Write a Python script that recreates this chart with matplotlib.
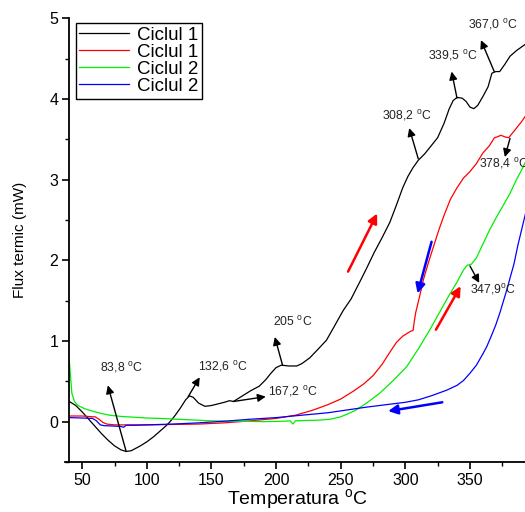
import matplotlib
matplotlib.use("Agg")
import matplotlib.pyplot as plt
from matplotlib.ticker import MultipleLocator

plt.rcParams['font.family'] = ['Liberation Sans', 'DejaVu Sans']
plt.rcParams['mathtext.fontset'] = 'custom'
plt.rcParams['mathtext.rm'] = 'Liberation Sans'

# ---- data ----
labels = ["Ciclul 1", "Ciclul 1", "Ciclul 2", "Ciclul 2"]
colors = ["black", "red", "#00ee00", "blue"]

black_T = [40, 45, 50, 55, 60, 65, 70, 75, 80, 84, 88, 95, 100, 105, 110, 115, 118, 122, 126, 130,
           133, 136, 140, 145, 150, 155, 160, 164, 167, 170, 175, 180, 187, 192, 196, 200, 204, 210,
           216, 220, 226, 232, 239, 245, 252, 258, 265, 270, 276, 282, 288, 293, 298, 302, 306, 310,
           315, 320, 325, 330, 334, 337, 340, 344, 347, 350, 353, 356, 360, 364, 367, 370, 373, 377,
           381, 386, 393]
black_v = [0.25, 0.20, 0.12, 0.03, -0.06, -0.15, -0.23, -0.30, -0.35, -0.37, -0.36, -0.30, -0.25,
           -0.19, -0.12, -0.05, 0.0, 0.08, 0.17, 0.27, 0.32, 0.30, 0.23, 0.19, 0.20, 0.22, 0.24, 0.26,
           0.25, 0.28, 0.33, 0.38, 0.44, 0.52, 0.60, 0.67, 0.70, 0.69, 0.69, 0.72, 0.79, 0.89, 1.01,
           1.18, 1.38, 1.52, 1.74, 1.90, 2.10, 2.28, 2.47, 2.68, 2.90, 3.04, 3.15, 3.24, 3.32, 3.42,
           3.52, 3.70, 3.88, 3.98, 4.02, 4.01, 3.97, 3.90, 3.88, 3.92, 4.03, 4.15, 4.32, 4.34, 4.34,
           4.43, 4.53, 4.60, 4.68]

red_T = [40, 50, 58, 60, 63, 66, 69, 75, 85, 100, 120, 140, 160, 180, 200, 215, 228, 240, 250, 260,
         268, 275, 282, 288, 293, 298, 302, 304, 306, 307, 308, 311, 314, 318, 322, 326, 330, 335,
         340, 345, 350, 355, 360, 365, 369, 371, 374, 377, 380, 383, 387, 390, 393]
red_v = [0.07, 0.07, 0.06, 0.06, 0.03, -0.01, -0.03, -0.04, -0.04, -0.04, -0.035, -0.03, -0.015,
         0.01, 0.04, 0.08, 0.14, 0.21, 0.28, 0.38, 0.47, 0.57, 0.71, 0.86, 0.98, 1.06, 1.10, 1.12,
         1.13, 1.25, 1.35, 1.55, 1.76, 1.98, 2.18, 2.38, 2.56, 2.76, 2.90, 3.02, 3.10, 3.20, 3.33,
         3.42, 3.52, 3.53, 3.55, 3.53, 3.52, 3.58, 3.66, 3.72, 3.79]

green_T = [40, 41, 42, 44, 46, 48, 52, 58, 65, 71, 80, 90, 100, 110, 130, 150, 170, 190, 205, 211,
           213, 215, 225, 235, 242, 250, 256, 262, 270, 280, 290, 301, 310, 319, 327, 334, 340, 345,
           348, 351, 355, 360, 365, 370, 375, 381, 386, 390, 393]
green_v = [0.76, 0.55, 0.35, 0.25, 0.21, 0.19, 0.16, 0.13, 0.10, 0.08, 0.065, 0.055, 0.045, 0.04,
           0.025, 0.01, 0.005, 0.0, 0.005, 0.01, -0.03, 0.01, 0.015, 0.02, 0.03, 0.06, 0.10, 0.145,
           0.23, 0.35, 0.50, 0.68, 0.90, 1.14, 1.37, 1.57, 1.73, 1.88, 1.94, 1.95, 2.03, 2.20, 2.37,
           2.52, 2.66, 2.83, 3.0, 3.12, 3.22]

blue_T = [40, 50, 58, 61, 64, 67, 75, 80, 82, 84, 90, 100, 120, 140, 160, 180, 200, 220, 240, 255,
          270, 285, 300, 310, 320, 332, 340, 345, 350, 355, 360, 363, 367, 370, 373, 376, 379, 381,
          384, 387, 390, 393]
blue_v = [0.05, 0.045, 0.04, 0.01, -0.04, -0.05, -0.055, -0.06, -0.07, -0.045, -0.045, -0.04, -0.03,
          -0.015, 0.005, 0.03, 0.05, 0.08, 0.11, 0.145, 0.18, 0.21, 0.24, 0.27, 0.32, 0.39, 0.45,
          0.51, 0.60, 0.70, 0.84, 0.93, 1.08, 1.20, 1.34, 1.50, 1.66, 1.78, 1.95, 2.18, 2.38, 2.58]

# annotations: text, text position, arrow tail (on curve), arrow head
ann_text = ["83,8 $^\\mathregular{o}$C", "132,6 $^\\mathregular{o}$C", "167,2 $^\\mathregular{o}$C",
            "205 $^\\mathregular{o}$C", "308,2 $^\\mathregular{o}$C", "339,5 $^\\mathregular{o}$C",
            "367,0 $^\\mathregular{o}$C", "378,4 $^\\mathregular{o}$C", "347,9$^\\mathregular{o}$C"]
ann_xy = [(80, 0.67), (159, 0.68), (213, 0.37), (213, 1.24), (301, 3.79), (336.6, 4.54),
          (368, 4.92), (376.5, 3.20), (368, 1.64)]
ann_tail = [(84, -0.37), (132, 0.31), (167, 0.25), (205, 0.70), (310, 3.26), (340, 4.01),
            (368.8, 4.34), (381, 3.51), (350, 1.93)]
ann_head = [(69.8, 0.45), (140.9, 0.55), (192, 0.31), (199, 1.05), (303, 3.64), (335.8, 4.34),
            (358.5, 4.73), (377, 3.28), (357.2, 1.72)]

dir_tail = [(255.7, 1.86), (320.3, 2.23), (323.7, 1.14), (328.6, 0.24)]
dir_head = [(278.2, 2.58), (309.5, 1.59), (342.8, 1.68), (286.7, 0.13)]
dir_color = ["red", "blue", "red", "blue"]

# ---- figure ----
fig = plt.figure(figsize=(5.25, 5.12), dpi=100)
ax = fig.add_axes([0.132, 0.0977, 0.868, 0.8665])

series = [(black_T, black_v), (red_T, red_v), (green_T, green_v), (blue_T, blue_v)]
for (T, v), c, lab in zip(series, colors, labels):
    ax.plot(T, v, color=c, lw=0.9, label=lab)

for txt, xy, tail, head in zip(ann_text, ann_xy, ann_tail, ann_head):
    ax.annotate("", xy=head, xytext=tail,
                arrowprops=dict(arrowstyle="-|>", color="black", lw=1.0,
                                mutation_scale=12, shrinkA=0, shrinkB=0))
    ax.text(xy[0], xy[1], txt, fontsize=8.8, ha="center", va="center", color="#222222",
            clip_on=False)

for tail, head, c in zip(dir_tail, dir_head, dir_color):
    ax.annotate("", xy=head, xytext=tail,
                arrowprops=dict(arrowstyle="-|>", color=c, lw=1.8,
                                mutation_scale=14, shrinkA=0, shrinkB=0))

ax.set_xlim(40, 392.6)
ax.set_ylim(-0.5, 5.0)
ax.xaxis.set_major_locator(MultipleLocator(50))
ax.xaxis.set_minor_locator(MultipleLocator(25))
ax.set_yticks([0, 1, 2, 3, 4, 5])
ax.yaxis.set_minor_locator(MultipleLocator(0.5))
ax.spines['top'].set_visible(False)
ax.spines['right'].set_visible(False)
for s in ['left', 'bottom']:
    ax.spines[s].set_linewidth(1.3)
ax.spines['bottom'].set_bounds(36.5, 392.6)
ax.tick_params(which='major', direction='out', length=5, width=1.2, labelsize=11.5, pad=3)
ax.tick_params(which='minor', direction='out', length=3, width=1.0)

ax.set_xlabel("Temperatura $^\\mathregular{o}$C", fontsize=14, va='baseline')
ax.xaxis.set_label_coords(0.5, (462 - 505.5) / 443.7)
ax.set_ylabel("Flux termic (mW)", fontsize=11, va='center')
ax.yaxis.set_label_coords((20 - 69.3) / 455.7, 0.5)

leg = ax.legend(loc="upper left", bbox_to_anchor=(0.014, 0.99), fontsize=13.5,
                frameon=True, fancybox=False, edgecolor="black", framealpha=1,
                handlelength=2.65, labelspacing=0.0, borderpad=0.2, handletextpad=0.4,
                borderaxespad=0)
leg.get_frame().set_linewidth(1.0)

fig.savefig("out.png", dpi=100)
